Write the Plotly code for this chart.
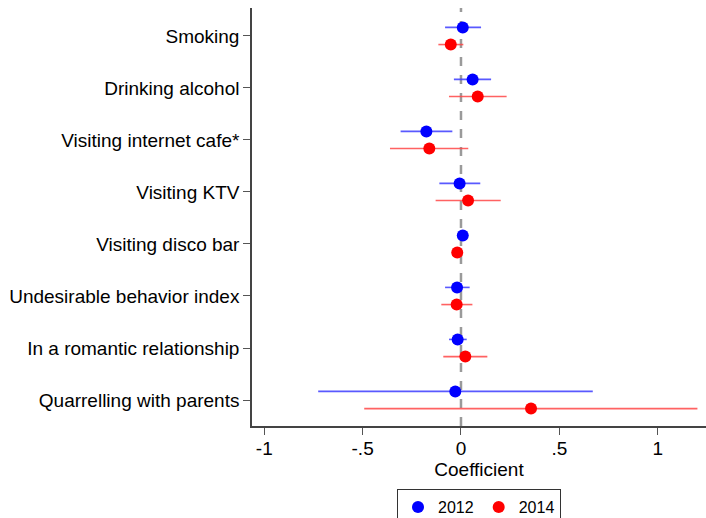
import plotly.graph_objects as go

# Outcomes, top to bottom
outcomes = [
    "Smoking",
    "Drinking alcohol",
    "Visiting internet cafe*",
    "Visiting KTV",
    "Visiting disco bar",
    "Undesirable behavior index",
    "In a romantic relationship",
    "Quarrelling with parents",
]

# 2012 estimates and 95% CI bounds
est_2012 = [0.009, 0.059, -0.176, -0.007, 0.009, -0.020, -0.017, -0.029]
lo_2012 = [-0.081, -0.036, -0.307, -0.110, 0.000, -0.081, -0.061, -0.726]
hi_2012 = [0.102, 0.153, -0.044, 0.098, 0.018, 0.044, 0.029, 0.670]

# 2014 estimates and 95% CI bounds
est_2014 = [-0.052, 0.085, -0.161, 0.036, -0.019, -0.022, 0.022, 0.356]
lo_2014 = [-0.115, -0.061, -0.361, -0.129, -0.028, -0.100, -0.090, -0.492]
hi_2014 = [0.012, 0.232, 0.037, 0.202, -0.010, 0.058, 0.134, 1.202]

x_tick_vals = [-1, -0.5, 0, 0.5, 1]
x_tick_text = ["-1", "-.5", "0", ".5", "1"]

pos = list(range(len(outcomes)))
shift = 0.165

fig = go.Figure()


def add_series(name, est, lo, hi, color, bar_color, offset):
    fig.add_trace(go.Scatter(
        x=est,
        y=[p + offset for p in pos],
        mode="markers",
        name=name,
        marker=dict(color=color, size=12, symbol="circle"),
        error_x=dict(
            type="data",
            symmetric=False,
            array=[h - e for h, e in zip(hi, est)],
            arrayminus=[e - l for e, l in zip(est, lo)],
            color=bar_color,
            thickness=1.6,
            width=0,
        ),
    ))


add_series("2012", est_2012, lo_2012, hi_2012, "#0000ff", "rgba(60,60,255,0.85)", -shift)
add_series("2014", est_2014, lo_2014, hi_2014, "#ff0000", "rgba(255,70,70,0.85)", shift)

# Reference line at zero
fig.add_shape(type="line", xref="x", yref="paper", x0=0, x1=0, y0=0, y1=1,
              line=dict(color="#9a9a9a", width=2.5, dash="dash"), layer="below")

font_family = "Liberation Sans, Arial, Helvetica, sans-serif"

fig.update_layout(
    width=706,
    height=518,
    margin=dict(l=252, r=0, t=8, b=92, autoexpand=False),
    paper_bgcolor="white",
    plot_bgcolor="white",
    font=dict(family=font_family, size=19, color="black"),
    showlegend=True,
    legend=dict(
        orientation="h",
        x=0.5, xanchor="center",
        y=-0.151, yanchor="top",
        bordercolor="#333333",
        borderwidth=1,
        font=dict(size=16),
        itemwidth=30,
        tracegroupgap=0,
    ),
    xaxis=dict(
        range=[-1.0625, 1.2456],
        tickvals=x_tick_vals,
        ticktext=x_tick_text,
        ticks="outside",
        ticklen=7,
        tickwidth=1.2,
        tickcolor="#555555",
        ticklabelstandoff=-3,
        showline=True,
        linecolor="#444444",
        linewidth=1.5,
        showgrid=False,
        zeroline=False,
        automargin=False,
        title=dict(text="Coefficient", font=dict(size=19), standoff=1),
        tickfont=dict(size=19),
    ),
    yaxis=dict(
        range=[7.5, -0.538],
        tickvals=pos,
        ticktext=outcomes,
        ticks="outside",
        ticklen=7,
        tickwidth=1.2,
        tickcolor="#555555",
        showline=True,
        linecolor="#444444",
        linewidth=1.5,
        showgrid=False,
        zeroline=False,
        automargin=False,
        tickfont=dict(size=19),
    ),
)

fig.write_html("out.html")
